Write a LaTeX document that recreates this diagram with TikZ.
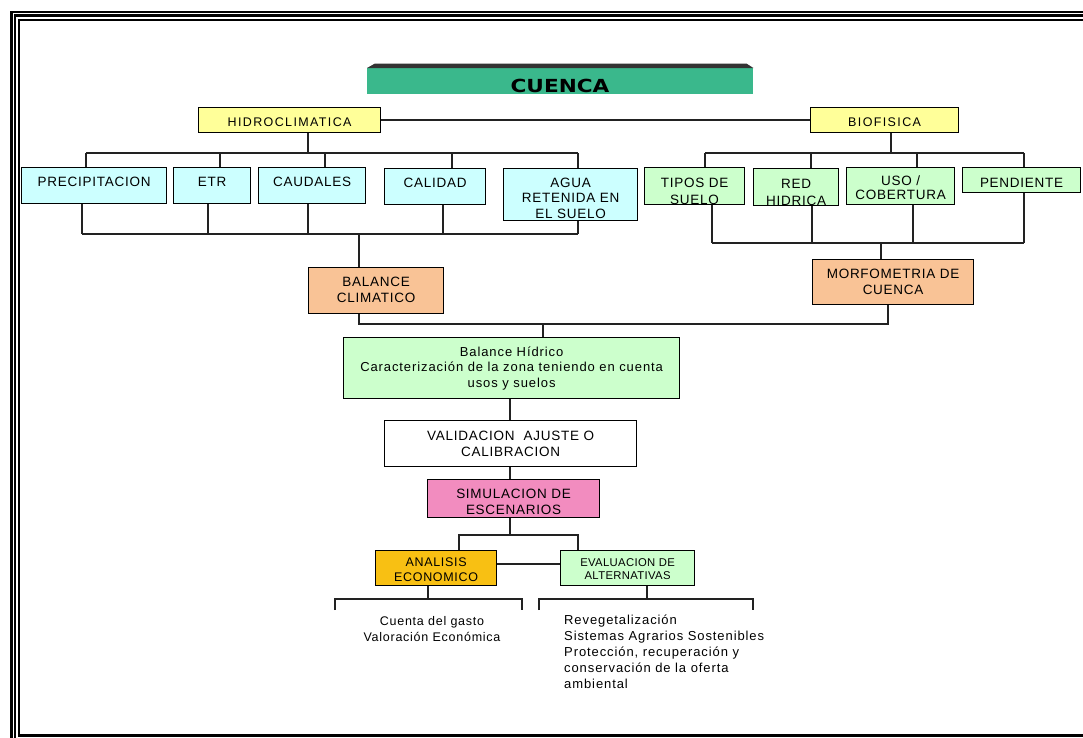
\documentclass[tikz,border=0pt]{standalone}
\usepackage{fontspec}
\setmainfont{Liberation Sans}
\newfontfamily\capf[LetterSpace=5.5]{Liberation Sans}
\newfontfamily\hdf[LetterSpace=11]{Liberation Sans}
\newfontfamily\txf[LetterSpace=7]{Liberation Sans}
\newfontfamily\lsf[LetterSpace=6]{Liberation Sans}
\newfontfamily\evf[LetterSpace=3]{Liberation Sans}
\newfontfamily\ttlf{DejaVu Sans}
\usepackage{graphicx}
\definecolor{cblue}{HTML}{CCFFFF}
\definecolor{cgreen}{HTML}{CCFFCC}
\definecolor{cyell}{HTML}{FFFF99}
\definecolor{cpeach}{HTML}{F9C396}
\definecolor{cpink}{HTML}{F28CBF}
\definecolor{cgold}{HTML}{F8C013}
\definecolor{cttl}{HTML}{3AB88C}
\definecolor{cttltop}{HTML}{333333}
\definecolor{cline}{HTML}{222222}
\begin{document}
\begin{tikzpicture}[x=1pt,y=-1pt,
  box/.style={draw=black, line width=1.2pt, inner sep=0pt, anchor=north west},
  capt/.style={inner sep=0pt, align=center, font=\capf\fontsize{13.5}{16}\selectfont},
  hdt/.style={inner sep=0pt, align=center, font=\hdf\fontsize{12.5}{15}\selectfont},
  bht/.style={inner sep=0pt, align=center, font=\txf\fontsize{13}{15.5}\selectfont},
  ln/.style={draw=cline, line width=1.4pt}]
\useasboundingbox (0,0) rectangle (1083,737);
% frame
\begin{scope}
\clip (0,0) rectangle (1083,737);
\draw[line width=2.5pt] (11.3,12) rectangle (1200,800);
\draw[line width=2.2pt] (15,15.5) rectangle (1195,795);
\draw[line width=2.2pt] (19,20) rectangle (1190,735.5);
\draw[line width=3.5pt] (18,735.5) -- (1190,735.5);
\end{scope}
% title
\node[fill=cttl, inner sep=0pt, minimum width=386pt, minimum height=26pt, anchor=north west] (cuenca) at (367,68) {};
\fill[cttltop] (cuenca.north west) -- ([xshift=8pt,yshift=4.5pt]cuenca.north west) -- ([xshift=-7pt,yshift=4.5pt]cuenca.north east) -- (cuenca.north east) -- cycle;
\node[inner sep=0pt, font=\ttlf\bfseries\fontsize{18}{18}\selectfont] (cuencaT) at (560,86) {\scalebox{1.2}[1]{CUENCA}};
% level 1
\node[box, fill=cyell, minimum width=182pt, minimum height=25pt] (hidro) at (198,107) {};
\node[hdt] (hidroT) at ([yshift=-2.5pt]hidro.center) {HIDROCLIMATICA};
\node[box, fill=cyell, minimum width=148pt, minimum height=25pt] (bio) at (810,107) {};
\node[hdt] (bioT) at ([yshift=-2pt]bio.center) {BIOFISICA};
\draw[ln] (hidro.east) -- (bio.west);
% level 2 left
\node[box, fill=cblue, minimum width=145pt, minimum height=36pt] (precip) at (21,167) {};
\node[capt] (precipT) at ([yshift=3.5pt]precip.center) {PRECIPITACION};
\node[box, fill=cblue, minimum width=77pt, minimum height=36pt] (etr) at (173,167) {};
\node[capt] (etrT) at ([yshift=3.5pt]etr.center) {ETR};
\node[box, fill=cblue, minimum width=107pt, minimum height=36pt] (caud) at (258,167) {};
\node[capt] (caudT) at ([yshift=3.5pt]caud.center) {CAUDALES};
\node[box, fill=cblue, minimum width=101pt, minimum height=36pt] (cal) at (384,168) {};
\node[capt] (calT) at ([yshift=3.5pt]cal.center) {CALIDAD};
\node[box, fill=cblue, minimum width=134pt, minimum height=52pt] (agua) at (503,168) {};
\node[capt, font=\capf\fontsize{13.5}{15.5}\selectfont] (aguaT) at ([yshift=-3.5pt]agua.center) {AGUA\\RETENIDA EN\\EL SUELO};
% level 2 right
\node[box, fill=cgreen, minimum width=100pt, minimum height=37pt] (tipos) at (644,167) {};
\node[capt, font=\capf\fontsize{13.5}{17}\selectfont] (tiposT) at ([yshift=-5pt]tipos.center) {TIPOS DE\\SUELO};
\node[box, fill=cgreen, minimum width=85pt, minimum height=37pt] (red) at (753,168) {};
\node[capt, font=\capf\fontsize{13.5}{17}\selectfont] (redT) at ([yshift=-5pt]red.center) {RED\\HIDRICA};
\node[box, fill=cgreen, minimum width=108pt, minimum height=37pt] (uso) at (846,167) {};
\node[capt, font=\capf\fontsize{13.5}{14.5}\selectfont] (usoT) at ([yshift=-1.5pt]uso.center) {USO /\\COBERTURA};
\node[box, fill=cgreen, minimum width=118pt, minimum height=25pt] (pend) at (962,167) {};
\node[capt] (pendT) at ([yshift=-3pt]pend.center) {PENDIENTE};
% level 3
\node[box, fill=cpeach, minimum width=135pt, minimum height=46pt] (balclim) at (308,267) {};
\node[capt] (balclimT) at ([yshift=1pt]balclim.center) {BALANCE\\CLIMATICO};
\node[box, fill=cpeach, minimum width=161pt, minimum height=45pt] (morf) at (812,259) {};
\node[capt] (morfT) at (morf.center) {MORFOMETRIA DE\\CUENCA};
% center column
\node[box, fill=cgreen, minimum width=336pt, minimum height=61pt] (bh) at (343,337) {};
\node[bht] (bhT) at (bh.center) {Balance Hídrico\\Caracterización de la zona teniendo en cuenta\\usos y suelos};
\node[box, fill=white, minimum width=252pt, minimum height=46pt] (val) at (384,420) {};
\node[capt] (valT) at (val.center) {VALIDACION\ \ AJUSTE O\\CALIBRACION};
\node[box, fill=cpink, minimum width=172pt, minimum height=38pt] (sim) at (427,479) {};
\node[capt] (simT) at ([yshift=-3pt]sim.center) {SIMULACION DE\\ESCENARIOS};
\node[box, fill=cgold, minimum width=121pt, minimum height=35pt] (anal) at (375,550) {};
\node[capt, font=\capf\fontsize{12.5}{15}\selectfont] (analT) at ([yshift=-1.5pt]anal.center) {ANALISIS\\ECONOMICO};
\node[box, fill=cgreen, minimum width=134pt, minimum height=35pt] (eval) at (560,550) {};
\node[inner sep=0pt, align=center, font=\evf\fontsize{11.3}{13}\selectfont] (evalT) at ([yshift=-1pt]eval.center) {EVALUACION DE\\ALTERNATIVAS};
% texts at bottom
\node[inner sep=0pt, align=center, anchor=north, font=\lsf\fontsize{12.5}{16}\selectfont] (gastoT) at (432,616) {Cuenta del gasto\\Valoración Económica};
\node[inner sep=0pt, anchor=north west, align=left, font=\txf\fontsize{13}{16}\selectfont] (altT) at (564,615) {Revegetalización\\Sistemas Agrarios Sostenibles\\Protección, recuperación y\\conservación de la oferta\\ambiental};
% hidro tree
\coordinate (hJ) at (308,153);
\draw[ln] (hJ |- hidro.south) -- (hJ);
\foreach \x/\n in {86/precip,220/etr,325/caud,452/cal,578/agua}{
  \coordinate (t\n) at (\x,153);
  \draw[ln] (t\n) -- (t\n |- \n.north);
}
\draw[ln] (tprecip) -- (tagua);
\foreach \x/\n in {82/precip,208/etr,308/caud,443/cal,578/agua}{
  \coordinate (b\n) at (\x,234);
  \draw[ln] (b\n |- \n.south) -- (b\n);
}
\draw[ln] (bprecip) -- (bagua);
\coordinate (bcl) at (359,234);
\draw[ln] (bcl) -- (bcl |- balclim.north);
% bio tree
\coordinate (bJ) at (891,153);
\draw[ln] (bJ |- bio.south) -- (bJ);
\foreach \x/\n in {705/tipos,811/red,917/uso,1024/pend}{
  \coordinate (t\n) at (\x,153);
  \draw[ln] (t\n) -- (t\n |- \n.north);
}
\draw[ln] (ttipos) -- (tpend);
\foreach \x/\n in {712/tipos,812/red,913/uso,1024/pend}{
  \coordinate (b\n) at (\x,243);
  \draw[ln] (b\n |- \n.south) -- (b\n);
}
\draw[ln] (btipos) -- (bpend);
\coordinate (bmo) at (881,243);
\draw[ln] (bmo) -- (bmo |- morf.north);
% merge
\coordinate (mL) at (359,324);
\coordinate (mR) at (888,324);
\coordinate (mB) at (543,324);
\draw[ln] (mL |- balclim.south) -- (mL) -- (mR) -- (mR |- morf.south);
\draw[ln] (mB) -- (mB |- bh.north);
% central chain
\coordinate (cx) at (510,0);
\draw[ln] (bh.south -| cx) -- (val.north -| cx);
\draw[ln] (val.south -| cx) -- (sim.north -| cx);
\coordinate (sJ) at (510,535);
\coordinate (sL) at (459,535);
\coordinate (sR) at (578,535);
\draw[ln] (sim.south -| sJ) -- (sJ);
\draw[ln] (sL |- anal.north) -- (sL) -- (sR) -- (sR |- eval.north);
\coordinate (aeY) at (0,564);
\draw[ln] (anal.east |- aeY) -- (eval.west |- aeY);
% brackets
\coordinate (aJ) at (428,599);
\coordinate (kA1) at (335,610);
\coordinate (kA2) at (335,599);
\coordinate (kA3) at (522,599);
\coordinate (kA4) at (522,610);
\draw[ln] (aJ |- anal.south) -- (aJ);
\draw[ln] (kA1) -- (kA2) -- (kA3) -- (kA4);
\coordinate (eJ) at (647,599);
\coordinate (kE1) at (539,610);
\coordinate (kE2) at (539,599);
\coordinate (kE3) at (753,599);
\coordinate (kE4) at (753,610);
\draw[ln] (eJ |- eval.south) -- (eJ);
\draw[ln] (kE1) -- (kE2) -- (kE3) -- (kE4);
\end{tikzpicture}
\end{document}
